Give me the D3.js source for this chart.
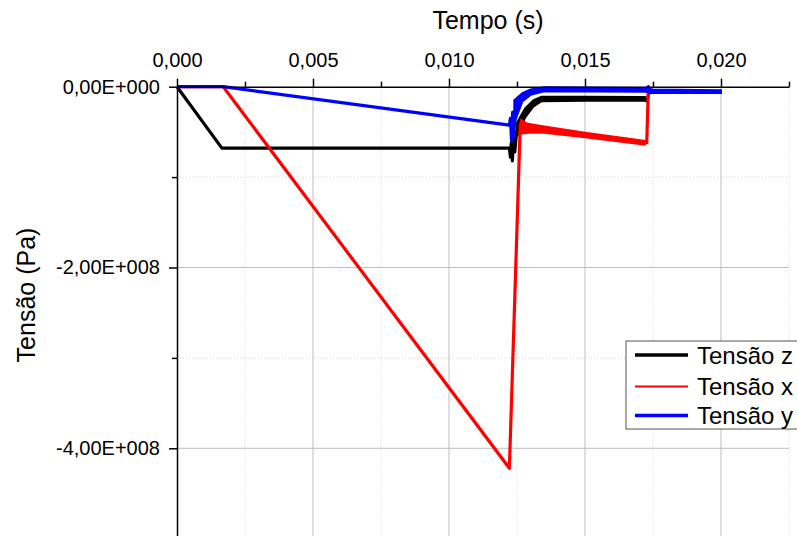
<!DOCTYPE html>
<html lang="pt">
<head>
    <meta charset="UTF-8">
    <title>Tensão x Tempo</title>
    <script src="https://d3js.org/d3.v7.min.js"></script>
    <style>
        body { margin: 0; background: #fff; }
        text { font-family: "Liberation Sans", Arial, sans-serif; fill: #000; }
    </style>
</head>
<body>
    <svg width="797" height="536" id="chart"></svg>
    <script>
        const width = 797;
        const height = 536;
        const svg = d3.select("#chart");

        // Tick values
        const xMajorTicks = [0, 0.005, 0.010, 0.015, 0.020];
        const xMinorTicks = [0.0025, 0.0075, 0.0125, 0.0175, 0.0225];
        const yMajorTicks = [0, -2e8, -4e8];
        const yMinorTicks = [-1e8, -3e8];

        // Series: [tempo (s), tensão (Pa)]
        const tensaoZ = [
            [0, 0], [0.00165, -0.68e8], [0.01222, -0.68e8], [0.01226, -0.78e8],
            [0.01229, -0.62e8], [0.01233, -0.82e8], [0.01237, -0.58e8], [0.01242, -0.72e8],
            [0.01248, -0.5e8], [0.01255, -0.47e8], [0.01265, -0.38e8], [0.0128, -0.29e8],
            [0.01304, -0.19e8], [0.0134, -0.14e8], [0.015, -0.135e8], [0.0172, -0.135e8],
            [0.01728, -0.16e8], [0.01735, -0.07e8], [0.0175, -0.06e8], [0.0200, -0.06e8]
        ];
        const tensaoX = [
            [0, 0], [0.0017, 0], [0.01222, -4.22e8], [0.01262, -0.42e8], [0.01268, -0.38e8],
            [0.0128, -0.46e8], [0.0133, -0.47e8], [0.015, -0.535e8], [0.01727, -0.62e8],
            [0.01733, -0.01e8], [0.01745, -0.06e8], [0.0200, -0.055e8]
        ];
        const tensaoY = [
            [0, 0], [0.0017, 0], [0.01222, -0.425e8], [0.01226, -0.35e8], [0.0123, -0.6e8],
            [0.01234, -0.28e8], [0.01238, -0.55e8], [0.01243, -0.3e8], [0.0125, -0.2e8],
            [0.01267, -0.11e8], [0.01304, -0.055e8], [0.0135, -0.03e8], [0.0172, -0.04e8],
            [0.01733, 0], [0.01738, -0.06e8], [0.0200, -0.055e8]
        ];

        // Noise envelopes: [tempo, lower, upper]
        const bandZ = [
            [0.0125, -0.55e8, -0.4e8], [0.0128, -0.34e8, -0.24e8], [0.0131, -0.22e8, -0.15e8],
            [0.0134, -0.16e8, -0.11e8], [0.015, -0.155e8, -0.11e8], [0.0172, -0.155e8, -0.115e8]
        ];
        const bandX = [
            [0.01265, -0.52e8, -0.37e8], [0.0129, -0.51e8, -0.41e8], [0.0135, -0.51e8, -0.44e8],
            [0.015, -0.56e8, -0.51e8], [0.0172, -0.64e8, -0.6e8]
        ];
        const bandY = [
            [0.0124, -0.4e8, -0.15e8], [0.0127, -0.16e8, -0.07e8], [0.013, -0.09e8, -0.03e8],
            [0.0135, -0.05e8, -0.005e8], [0.0172, -0.055e8, -0.015e8], [0.0175, -0.07e8, -0.03e8],
            [0.0200, -0.07e8, -0.04e8]
        ];

        const series = [
            { name: "Tensão z", data: tensaoZ, band: bandZ, color: "#000000", legendWidth: 3.5 },
            { name: "Tensão x", data: tensaoX, band: bandX, color: "#ff0000", legendWidth: 2 },
            { name: "Tensão y", data: tensaoY, band: bandY, color: "#0000ff", legendWidth: 3.5 }
        ];

        const x = d3.scaleLinear().domain([0, 0.0225]).range([177, 789]);
        const y = d3.scaleLinear().domain([-5e8, 0]).range([538.7, 86.7]);

        // Grid
        const grid = svg.append("g");
        grid.selectAll("line.vmaj").data(xMajorTicks.slice(1)).enter().append("line")
            .attr("x1", d => x(d)).attr("x2", d => x(d))
            .attr("y1", y(0)).attr("y2", height)
            .attr("stroke", "#bdbdbd").attr("stroke-width", 1);
        grid.selectAll("line.vmin").data(xMinorTicks).enter().append("line")
            .attr("x1", d => x(d)).attr("x2", d => x(d))
            .attr("y1", y(0)).attr("y2", height)
            .attr("stroke", "#d4d4d4").attr("stroke-width", 1).attr("stroke-dasharray", "1,2");
        grid.selectAll("line.hmaj").data(yMajorTicks.slice(1)).enter().append("line")
            .attr("x1", x(0)).attr("x2", x(0.0225))
            .attr("y1", d => y(d)).attr("y2", d => y(d))
            .attr("stroke", "#bdbdbd").attr("stroke-width", 1);
        grid.selectAll("line.hmin").data(yMinorTicks).enter().append("line")
            .attr("x1", x(0)).attr("x2", x(0.0225))
            .attr("y1", d => y(d)).attr("y2", d => y(d))
            .attr("stroke", "#d4d4d4").attr("stroke-width", 1).attr("stroke-dasharray", "1,2");

        // Series
        const line = d3.line().x(d => x(d[0])).y(d => y(d[1]));
        const area = d3.area().x(d => x(d[0])).y0(d => y(d[1])).y1(d => y(d[2]));

        series.forEach(s => {
            svg.append("path")
                .attr("d", area(s.band))
                .attr("fill", s.color)
                .attr("stroke", s.color)
                .attr("stroke-width", 2);
            svg.append("path")
                .attr("d", line(s.data))
                .attr("fill", "none")
                .attr("stroke", s.color)
                .attr("stroke-width", 3.2)
                .attr("stroke-linejoin", "round");
        });

        // Axes
        const fmtX = d => d3.format(".3f")(d).replace(".", ",");
        const fmtY = d => {
            if (d === 0) return "0,00E+000";
            const e = Math.floor(Math.log10(Math.abs(d)));
            const m = d / Math.pow(10, e);
            return m.toFixed(2).replace(".", ",") + "E+" + String(e).padStart(3, "0");
        };

        svg.append("g")
            .attr("transform", `translate(0,${y(0)})`)
            .call(d3.axisTop(x).tickValues(xMajorTicks).tickFormat(fmtX)
                .tickSize(8).tickSizeOuter(0).tickPadding(12));
        svg.append("g")
            .attr("transform", `translate(0,${y(0)})`)
            .call(d3.axisTop(x).tickValues(xMinorTicks).tickFormat("")
                .tickSize(5).tickSizeOuter(0))
            .select(".domain").remove();

        svg.append("g")
            .attr("transform", `translate(${x(0)},0)`)
            .call(d3.axisLeft(y).tickValues(yMajorTicks).tickFormat(fmtY)
                .tickSize(8).tickSizeOuter(0).tickPadding(9));
        svg.append("g")
            .attr("transform", `translate(${x(0)},0)`)
            .call(d3.axisLeft(y).tickValues(yMinorTicks).tickFormat("")
                .tickSize(5).tickSizeOuter(0))
            .select(".domain").remove();

        svg.selectAll(".domain, .tick line")
            .attr("stroke", "#000").attr("stroke-width", 1.5);
        svg.selectAll(".tick text")
            .attr("font-size", "20px")
            .attr("font-family", "'Liberation Sans', Arial, sans-serif")
            .attr("fill", "#000");

        // Titles
        svg.append("text")
            .attr("x", 488).attr("y", 28.5)
            .attr("text-anchor", "middle")
            .attr("font-size", "25px")
            .text("Tempo (s)");
        svg.append("text")
            .attr("transform", "translate(35,295) rotate(-90)")
            .attr("text-anchor", "middle")
            .attr("font-size", "25px")
            .text("Tensão (Pa)");

        // Legend
        const legend = svg.append("g").attr("transform", "translate(626,341)");
        legend.append("rect")
            .attr("width", 200).attr("height", 88)
            .attr("fill", "#fff").attr("stroke", "#555").attr("stroke-width", 1);
        const legendRows = [14, 45.5, 74.5];
        series.forEach((s, i) => {
            legend.append("line")
                .attr("x1", 9).attr("x2", 62)
                .attr("y1", legendRows[i]).attr("y2", legendRows[i])
                .attr("stroke", s.color).attr("stroke-width", s.legendWidth);
            legend.append("text")
                .attr("x", 71).attr("y", legendRows[i] + 8.5)
                .attr("font-size", "24px")
                .text(s.name);
        });
    </script>
</body>
</html>
